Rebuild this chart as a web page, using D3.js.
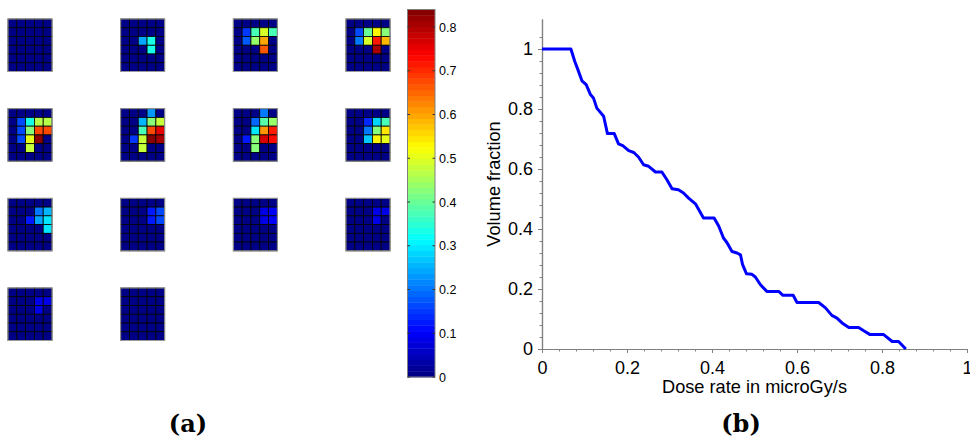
<!DOCTYPE html>
<html>
<head>
<meta charset="utf-8">
<script src="https://cdn.jsdelivr.net/npm/d3@7"></script>
<style>
  body { margin: 0; background: #fff; }
  svg { display: block; }
</style>
</head>
<body>
<div id="chart"></div>
<script>
'use strict';

// Dose rate maps, 6 rows x 5 columns each, in frame order
var frame01 = [[0,0,0,0,0],[0,0,0,0,0],[0,0,0,0,0],[0,0,0,0,0],[0,0,0,0,0],[0,0,0,0,0]];
var frame02 = [[0,0,0,0,0],[0,0,0,0,0],[0,0,0.24,0.33,0],[0,0,0,0.33,0],[0,0,0,0,0],[0,0,0,0,0]];
var frame03 = [[0,0,0,0,0],[0,0.15,0.37,0.49,0.38],[0,0.18,0.44,0.60,0],[0,0,0,0.66,0],[0,0,0,0,0],[0,0,0,0,0]];
var frame04 = [[0,0,0,0,0],[0,0.17,0.40,0.53,0.43],[0,0.20,0.49,0.71,0.58],[0,0,0,0.81,0],[0,0,0,0,0],[0,0,0,0,0]];
var frame05 = [[0,0,0,0,0],[0,0.16,0.33,0.46,0.46],[0,0.16,0.42,0.68,0.68],[0,0.17,0.51,0.84,0],[0,0,0.48,0,0],[0,0,0,0,0]];
var frame06 = [[0,0,0,0.23,0],[0,0,0.25,0.42,0.48],[0,0,0.38,0.67,0.76],[0,0.15,0.48,0.84,0.81],[0,0,0.48,0,0],[0,0,0,0,0]];
var frame07 = [[0,0,0,0.20,0],[0,0,0.19,0.39,0.44],[0,0,0.30,0.61,0.71],[0,0.12,0.43,0.77,0.73],[0,0,0.43,0,0],[0,0,0,0,0]];
var frame08 = [[0,0,0,0,0],[0,0,0.14,0.28,0.38],[0,0,0.20,0.43,0.54],[0,0,0.27,0.53,0.51],[0,0,0,0,0],[0,0,0,0,0]];
var frame09 = [[0,0,0,0,0],[0,0,0,0.20,0.26],[0,0,0.13,0.24,0.30],[0,0,0,0,0.29],[0,0,0,0,0],[0,0,0,0,0]];
var frame10 = [[0,0,0,0,0],[0,0,0,0.13,0.16],[0,0,0,0.13,0.17],[0,0,0,0,0],[0,0,0,0,0],[0,0,0,0,0]];
var frame11 = [[0,0,0,0,0],[0,0,0,0.09,0.10],[0,0,0,0.09,0.10],[0,0,0,0,0],[0,0,0,0,0],[0,0,0,0,0]];
var frame12 = [[0,0,0,0,0],[0,0,0,0.08,0.09],[0,0,0,0.08,0],[0,0,0,0,0],[0,0,0,0,0],[0,0,0,0,0]];
var frame13 = [[0,0,0,0,0],[0,0,0,0.09,0.09],[0,0,0,0.09,0],[0,0,0,0,0],[0,0,0,0,0],[0,0,0,0,0]];
var frame14 = [[0,0,0,0,0],[0,0,0,0,0],[0,0,0,0,0],[0,0,0,0,0],[0,0,0,0,0],[0,0,0,0,0]];

var frames = [frame01, frame02, frame03, frame04, frame05, frame06, frame07,
  frame08, frame09, frame10, frame11, frame12, frame13, frame14];

var colorbarTicks = [0, 0.1, 0.2, 0.3, 0.4, 0.5, 0.6, 0.7, 0.8];
var colorMax = 0.84;

// Dose volume histogram
var doseRate = [0, 0.068, 0.077, 0.084, 0.094, 0.104, 0.114, 0.121, 0.129, 0.145,
  0.154, 0.170, 0.180, 0.190, 0.204, 0.216, 0.227, 0.239, 0.251, 0.267,
  0.282, 0.294, 0.306, 0.321, 0.333, 0.345, 0.361, 0.380, 0.405, 0.416,
  0.427, 0.435, 0.447, 0.459, 0.467, 0.472, 0.481, 0.494, 0.502, 0.514,
  0.529, 0.557, 0.567, 0.591, 0.600, 0.651, 0.667, 0.682, 0.694, 0.706,
  0.722, 0.745, 0.757, 0.772, 0.804, 0.824, 0.839, 0.856];
var volumeFraction = [1, 1, 0.959, 0.933, 0.894, 0.881, 0.848, 0.837, 0.803, 0.776,
  0.718, 0.718, 0.684, 0.678, 0.661, 0.655, 0.640, 0.614, 0.609, 0.590,
  0.590, 0.564, 0.534, 0.531, 0.520, 0.503, 0.484, 0.437, 0.437, 0.409,
  0.370, 0.355, 0.325, 0.320, 0.314, 0.281, 0.251, 0.249, 0.240, 0.214,
  0.192, 0.192, 0.179, 0.179, 0.155, 0.155, 0.137, 0.112, 0.103, 0.087,
  0.072, 0.072, 0.061, 0.048, 0.048, 0.025, 0.025, 0];
var xTicks = [0, 0.2, 0.4, 0.6, 0.8, 1];
var yTicks = [0, 0.2, 0.4, 0.6, 0.8, 1];

var width = 970, height = 441;
var font = '"Liberation Sans", Arial, sans-serif';

// matlab style jet colormap, 64 levels
function jet(t) {
  var c = function (v) { return Math.max(0, Math.min(1, v)); };
  return d3.rgb(255 * c(1.5 - Math.abs(4 * t - 3)),
    255 * c(1.5 - Math.abs(4 * t - 2)),
    255 * c(1.5 - Math.abs(4 * t - 1))).formatHex();
}
var color = d3.scaleQuantize()
  .domain([0, colorMax])
  .range(d3.range(64).map(function (i) { return jet((i + 0.5) / 64); }));

var svg = d3.select('#chart').append('svg')
  .attr('width', width)
  .attr('height', height)
  .style('background', '#fff');

// ---------- (a) small maps ----------
var panelX = d3.scaleLinear().domain([0, 3]).range([8, 346]);
var panelY = d3.scaleLinear().domain([0, 3]).range([19, 288]);
var cellX = d3.scaleBand().domain(d3.range(5)).range([0, 44]);
var cellY = d3.scaleBand().domain(d3.range(6)).range([0, 52.5]);

var maps = svg.selectAll('.map').data(frames).enter().append('g')
  .attr('class', 'map')
  .attr('transform', function (d, i) {
    return 'translate(' + panelX(i % 4) + ',' + panelY(Math.floor(i / 4)) + ')';
  });

maps.selectAll('g.row').data(function (d) { return d; }).enter().append('g')
  .attr('class', 'row')
  .attr('transform', function (d, r) { return 'translate(0,' + cellY(r) + ')'; })
  .selectAll('rect').data(function (d) { return d; }).enter().append('rect')
  .attr('x', function (d, c) { return cellX(c); })
  .attr('width', cellX.bandwidth())
  .attr('height', cellY.bandwidth())
  .style('fill', function (d) { return color(d); })
  .style('stroke', '#000')
  .style('stroke-width', 0.8);

maps.append('rect')
  .attr('width', 44)
  .attr('height', 52.5)
  .style('fill', 'none')
  .style('stroke', '#9a9a9a')
  .style('stroke-width', 1);

// colorbar
var cbX = 407.5, cbW = 27.5;
var cbY = d3.scaleLinear().domain([0, colorMax]).range([377, 9.5]);
var levels = d3.range(64).map(function (i) { return i * colorMax / 64; });

var cb = svg.append('g').attr('class', 'colorbar');
cb.selectAll('rect.level').data(levels).enter().append('rect')
  .attr('class', 'level')
  .attr('x', cbX)
  .attr('width', cbW)
  .attr('y', function (d) { return cbY(d + colorMax / 64); })
  .attr('height', function (d) { return cbY(d) - cbY(d + colorMax / 64) + 0.4; })
  .style('fill', function (d) { return color(d + colorMax / 128); });

cb.append('rect')
  .attr('x', cbX).attr('y', cbY(colorMax))
  .attr('width', cbW).attr('height', cbY(0) - cbY(colorMax))
  .style('fill', 'none').style('stroke', '#808080').style('stroke-width', 1);

cb.selectAll('line.tl').data(colorbarTicks).enter().append('line')
  .attr('x1', cbX).attr('x2', cbX + 2.5)
  .attr('y1', cbY).attr('y2', cbY)
  .style('stroke', '#333');
cb.selectAll('line.tr').data(colorbarTicks).enter().append('line')
  .attr('x1', cbX + cbW - 2.5).attr('x2', cbX + cbW)
  .attr('y1', cbY).attr('y2', cbY)
  .style('stroke', '#333');
cb.selectAll('text').data(colorbarTicks).enter().append('text')
  .attr('x', cbX + cbW + 4)
  .attr('y', cbY)
  .attr('dy', '0.36em')
  .style('font-family', font)
  .style('font-size', '12.5px')
  .style('fill', '#000')
  .text(d3.format('~g'));

// ---------- (b) dose volume histogram ----------
var x = d3.scaleLinear().domain([0, 1]).range([542, 967]);
var y = d3.scaleLinear().domain([0, 1.1]).range([349, 19]);
var minor = d3.range(0, 27).map(function (i) { return i * 0.04; });

var plot = svg.append('g').attr('class', 'dvh');

plot.append('g')
  .attr('transform', 'translate(0,' + y(0) + ')')
  .call(d3.axisBottom(x).tickValues(minor.filter(function (d) { return d <= 1; }))
    .tickSize(2.5).tickSizeOuter(0).tickFormat(''));
plot.append('g')
  .attr('class', 'xaxis')
  .attr('transform', 'translate(0,' + y(0) + ')')
  .call(d3.axisBottom(x).tickValues(xTicks).tickSize(4).tickSizeOuter(0)
    .tickPadding(8).tickFormat(d3.format('~g')));

plot.append('g')
  .attr('transform', 'translate(' + x(0) + ',0)')
  .call(d3.axisLeft(y).tickValues(minor).tickSize(2.5).tickSizeOuter(0).tickFormat(''));
plot.append('g')
  .attr('class', 'yaxis')
  .attr('transform', 'translate(' + x(0) + ',0)')
  .call(d3.axisLeft(y).tickValues(yTicks).tickSize(4).tickSizeOuter(0)
    .tickPadding(5).tickFormat(d3.format('~g')));

plot.selectAll('.domain').style('stroke', '#808080').style('stroke-width', 1.2);
plot.selectAll('.tick line').style('stroke', '#808080');
plot.selectAll('.tick text')
  .style('font-family', font)
  .style('font-size', '18px')
  .style('fill', '#000');

plot.append('path')
  .datum(d3.range(doseRate.length))
  .attr('d', d3.line()
    .x(function (i) { return x(doseRate[i]); })
    .y(function (i) { return y(volumeFraction[i]); }))
  .style('fill', 'none')
  .style('stroke', '#0000ff')
  .style('stroke-width', 3)
  .style('stroke-linejoin', 'round');

plot.append('text')
  .attr('x', (x(0) + x(1)) / 2)
  .attr('y', 393)
  .attr('text-anchor', 'middle')
  .style('font-family', font)
  .style('font-size', '18.2px')
  .text('Dose rate in microGy/s');

plot.append('text')
  .attr('transform', 'translate(500,' + (y(0) + y(1.1)) / 2 + ') rotate(-90)')
  .attr('text-anchor', 'middle')
  .style('font-family', font)
  .style('font-size', '18.2px')
  .text('Volume fraction');

// sub figure captions
svg.selectAll('.caption').data([['(a)', 188], ['(b)', 741]]).enter().append('text')
  .attr('class', 'caption')
  .attr('x', function (d) { return d[1]; })
  .attr('y', 432)
  .attr('text-anchor', 'middle')
  .style('font-family', '"DejaVu Serif", serif')
  .style('font-weight', 'bold')
  .style('font-size', '24px')
  .text(function (d) { return d[0]; });
</script>
</body>
</html>
